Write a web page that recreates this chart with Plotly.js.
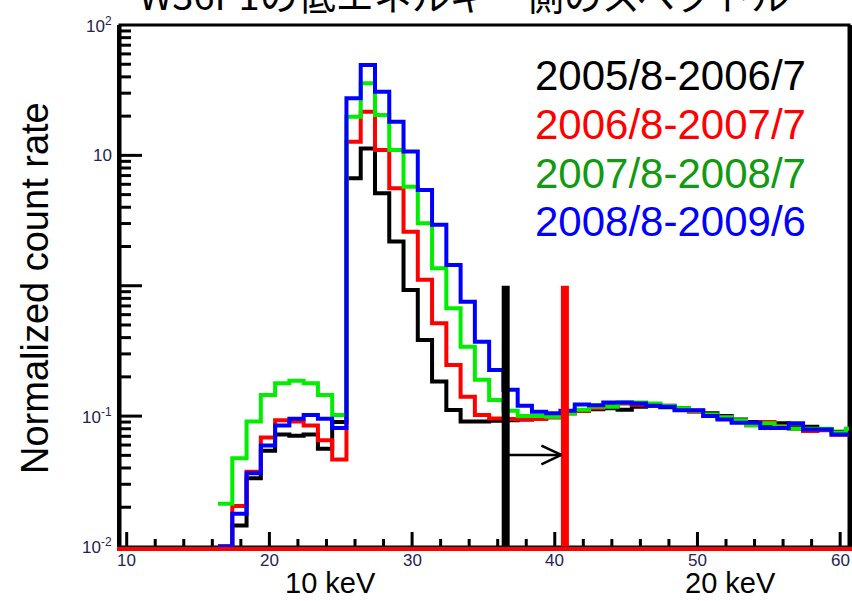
<!DOCTYPE html>
<html><head><meta charset="utf-8">
<script src="https://cdn.plot.ly/plotly-3.0.1.min.js"></script>
<style>html,body{margin:0;padding:0;background:#fff}#chart{width:852px;height:601px}</style>
</head><body><div id="chart"></div>
<script>
// bin layout: 1-unit bins, first left edge
const firstEdge = 16.4;
const binWidth = 1;
// series values per bin (0 = empty bin)
const black = [0,0.0145,0.0334,0.0543,0.0722,0.0707,0.0722,0.0561,0.09,
  6.67,11.3,5.12,2.18,0.929,0.384,0.184,0.1116,0.091,0.091,0.092,0.093,0.094,0.096,0.098,0.105,0.11,0.113,0.115,0.112,0.118,0.12,0.117,0.115,0.11,0.105,0.1,0.094,0.09,0.086,0.088,0.082,0.083,0.079,0.076,0.078];
const red = [0,0.0204,0.0374,0.0684,0.0928,0.0908,0.0849,0.0654,0.0465,
  12.7,21.6,11.0,5.59,2.6,1.11,0.515,0.247,0.141,0.102,0.096,0.095,0.094,0.095,0.098,0.105,0.11,0.115,0.12,0.125,0.122,0.12,0.12,0.112,0.108,0.1,0.097,0.09,0.085,0.09,0.084,0.08,0.077,0.078,0.072,0.072];
const green = [0.0213,0.0475,0.091,0.1455,0.179,0.187,0.179,0.1455,0.102,
  19.8,35.7,20.4,11.0,5.75,3.01,1.36,0.672,0.341,0.19,0.133,0.11,0.1,0.1,0.099,0.105,0.112,0.118,0.118,0.127,0.127,0.125,0.12,0.115,0.11,0.103,0.098,0.093,0.085,0.088,0.083,0.08,0.08,0.08,0.075,0.08];
const blue = [0,0.0178,0.0364,0.0594,0.0849,0.0953,0.102,0.0953,0.0809,
  27.4,49.4,30.8,18.1,10.7,5.43,2.93,1.44,0.755,0.372,0.226,0.159,0.12,0.108,0.105,0.11,0.123,0.121,0.127,0.127,0.125,0.12,0.118,0.111,0.111,0.1,0.094,0.089,0.089,0.081,0.081,0.088,0.079,0.079,0.0723,0.0723];

const seriesNames = ['2005/8-2006/7','2006/8-2007/7','2007/8-2008/7','2008/8-2009/6'];
const seriesColors = ['#000000','#ff0000','#00ee00','#0000ff'];
const legendColors = ['#000000','#ff0000','#129a12','#0000ff'];
const seriesData = [black, red, green, blue];

const xMajorTicks = [10,20,30,40,50,60];
const xTickText = ['10','20','30','40','50','60'];
const yLabelVals = [0.01,0.1,10,100];
const yTickText = ['10<sup>-2</sup>','10<sup>-1</sup>','10','10<sup>2</sup>'];

const markerBlack = 36.56, markerRed = 40.71, markerTop = 1, arrowLevel = 0.0504;
const yMin = 0.01, yMax = 100;
const xRange = [9.53, 60.62];
const L = Math.log10;
const yRange = [L(yMin)-0.004, L(yMax)];
const yPaper = v => (L(v) - yRange[0]) / (yRange[1] - yRange[0]);

// tick mark positions
const xMinorTicks = [];
for (let v = 12; v < 61; v += 2) if (v % 10 !== 0) xMinorTicks.push(v);
const yMajorMarks = [0.1, 1, 10];
const yMinorTicks = [];
for (let e = -2; e < 2; e++) for (let m = 2; m <= 9; m++) yMinorTicks.push(m * Math.pow(10, e));

function stepTrace(vals, color){
  const xs = [], ys = [];
  for (let i = 0; i < vals.length; i++){ xs.push(firstEdge + i*binWidth); ys.push(vals[i] > 0 ? vals[i] : yMin); }
  xs.push(firstEdge + vals.length*binWidth); ys.push(ys[ys.length-1]);
  return {x: xs, y: ys, type:'scatter', mode:'lines', line:{shape:'hv', color: color, width:4}, hoverinfo:'skip', showlegend:false};
}
const traces = seriesData.map((v,i)=>stepTrace(v, seriesColors[i]));

const W = 729, H = 522;
const legendY = [75,124,174,222];
const tickFont = {family:'Liberation Sans, Arial, sans-serif', size:17, color:'#24244e'};
const annotations = [];
seriesNames.forEach((n,i)=>{
  annotations.push({text:n, xref:'paper', yref:'paper', x:(533-120)/W, y:(547-legendY[i])/H, xanchor:'left', yanchor:'middle', showarrow:false,
    font:{family:'Liberation Sans, Arial, sans-serif', size:42, color:legendColors[i]}});
});
annotations.push({text:'Normalized count rate', xref:'paper', yref:'paper', x:(35-120)/W, y:(547-288)/H, textangle:-90, xanchor:'center', yanchor:'middle', showarrow:false,
  font:{family:'Liberation Sans, Arial, sans-serif', size:38, color:'#000'}});
annotations.push({text:'10 keV', xref:'paper', yref:'paper', x:(330-120)/W, y:(547-583)/H, xanchor:'center', yanchor:'middle', showarrow:false,
  font:{family:'Liberation Sans, Arial, sans-serif', size:29, color:'#000'}});
annotations.push({text:'20 keV', xref:'paper', yref:'paper', x:(730-120)/W, y:(547-583)/H, xanchor:'center', yanchor:'middle', showarrow:false,
  font:{family:'Liberation Sans, Arial, sans-serif', size:29, color:'#000'}});
annotations.push({text:'W36P1の低エネルギー側のスペクトル', xref:'paper', yref:'paper', x:(464-120)/W, y:(547+6)/H, xanchor:'center', yanchor:'middle', showarrow:false,
  font:{family:'Noto Sans CJK JP, sans-serif', size:38, color:'#000'}});
// tick labels
xMajorTicks.forEach((v,i)=>{
  annotations.push({text:xTickText[i], xref:'x', yref:'paper', x:v, y:-13/H, xanchor:'center', yanchor:'middle', showarrow:false, font:tickFont});
});
yLabelVals.forEach((v,i)=>{
  annotations.push({text:yTickText[i], xref:'paper', yref:'paper', x:-6/W, y:yPaper(v), xanchor:'right', yanchor:'middle', showarrow:false, font:tickFont});
});

const aY = yPaper(arrowLevel);
const tickLine = {color:'#000', width:3};
const shapes = [
  {type:'rect', xref:'paper', yref:'paper', x0:0, x1:1, y0:0, y1:1, line:{color:'#000', width:3}, layer:'below'},
  {type:'line', xref:'x', yref:'paper', x0:markerBlack, x1:markerBlack, y0:yPaper(yMin), y1:yPaper(markerTop), line:{color:'#000', width:8}},
  {type:'line', xref:'x', yref:'paper', x0:markerRed, x1:markerRed, y0:yPaper(yMin), y1:yPaper(markerTop), line:{color:'#ff0000', width:8}},
  {type:'line', xref:'x', yref:'paper', x0:markerBlack, x1:markerRed-0.25, y0:aY, y1:aY, line:{color:'#000', width:2.5}},
  {type:'line', xref:'x', yref:'paper', x0:markerRed-1.65, x1:markerRed-0.25, y0:aY+0.018, y1:aY, line:{color:'#000', width:2.5}},
  {type:'line', xref:'x', yref:'paper', x0:markerRed-1.65, x1:markerRed-0.25, y0:aY-0.018, y1:aY, line:{color:'#000', width:2.5}}
];
// x tick marks (inside, from bottom edge up)
xMajorTicks.concat(xMinorTicks).forEach(v => {
  const len = xMajorTicks.includes(v) ? 15 : 8;
  shapes.push({type:'line', xref:'x', yref:'paper', x0:v, x1:v, y0:0, y1:len/H, line:tickLine});
});
// y tick marks (inside, from left edge rightwards)
yMajorMarks.concat(yMinorTicks).forEach(v => {
  const len = yMajorMarks.includes(v) ? 22 : 11;
  const p = yPaper(v);
  shapes.push({type:'line', xref:'paper', yref:'paper', x0:0, x1:len/W, y0:p, y1:p, line:tickLine});
});

const layout = {
  width:852, height:601,
  margin:{l:120, r:3, t:25, b:54},
  showlegend:false,
  xaxis:{range:xRange, showgrid:false, zeroline:false, showline:true, linecolor:'#ff0000', linewidth:4,
    ticks:'', showticklabels:false},
  yaxis:{type:'log', range:yRange, showgrid:false, zeroline:false, showline:true, linecolor:'#000', linewidth:3, mirror:true,
    ticks:'', showticklabels:false},
  annotations: annotations,
  shapes: shapes
};
Plotly.newPlot('chart', traces, layout, {displayModeBar:false});
</script></body></html>
